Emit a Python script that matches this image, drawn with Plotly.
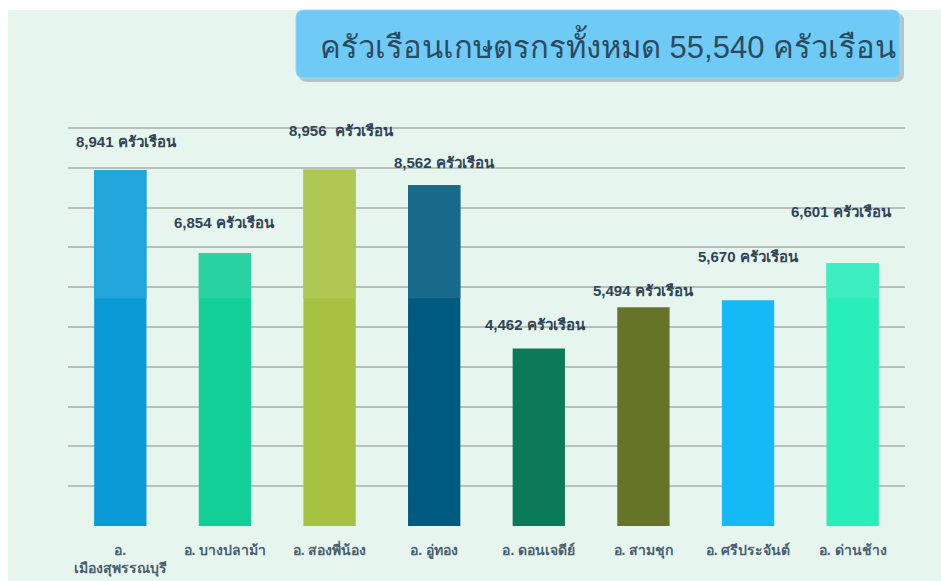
import plotly.graph_objects as go

districts = ["อ.<br>เมืองสุพรรณบุรี", "อ. บางปลาม้า", "อ. สองพี่น้อง", "อ. อู่ทอง",
             "อ. ดอนเจดีย์", "อ. สามชุก", "อ. ศรีประจันต์", "อ. ด่านช้าง"]
households = [8941, 6854, 8956, 8562, 4462, 5494, 5670, 6601]
value_labels = ["8,941 ครัวเรือน", "6,854 ครัวเรือน", "8,956  ครัวเรือน", "8,562 ครัวเรือน",
                "4,462 ครัวเรือน", "5,494 ครัวเรือน", "5,670 ครัวเรือน", "6,601 ครัวเรือน"]
title_text = "ครัวเรือนเกษตรกรทั้งหมด 55,540 ครัวเรือน"

bar_colors = ["#0a9bd7", "#12cf97", "#a6c240", "#005b80",
              "#0b7a57", "#667428", "#14b9f5", "#28eeb9"]
label_xshift = [6, 0, 12, 10, -3, 0, 0, -11]
label_yshift = [29, 31, 39, 23, 24, 17, 44, 52]
split_level = 5725  # lighter band above this level (background overlay effect)

def lighten(hexc, f=0.1):
    h = hexc.lstrip("#")
    r, g, b = (int(h[i:i+2], 16) for i in (0, 2, 4))
    r, g, b = (int(c + (255 - c) * f) for c in (r, g, b))
    return f"#{r:02x}{g:02x}{b:02x}"

FONT = "Liberation Sans, Arial, Noto Sans, DejaVu Sans, sans-serif"

# pixel helpers for decorative shapes (plot area: x 68..905, y 126..526)
PW, PH = 837, 400
def px(x):
    return (x - 68) / PW
def py(y):
    return (526 - y) / PH

def rounded_rect(x0, y0, x1, y1, r):
    rx, ry = r / PW, r / PH
    X0, X1, Y0, Y1 = px(x0), px(x1), py(y1), py(y0)
    return (f"M {X0+rx},{Y1} L {X1-rx},{Y1} Q {X1},{Y1} {X1},{Y1-ry} "
            f"L {X1},{Y0+ry} Q {X1},{Y0} {X1-rx},{Y0} L {X0+rx},{Y0} "
            f"Q {X0},{Y0} {X0},{Y0+ry} L {X0},{Y1-ry} Q {X0},{Y1} {X0+rx},{Y1} Z")

fig = go.Figure()
fig.add_trace(go.Bar(x=districts, y=households, marker=dict(color=bar_colors, line=dict(width=0)),
                     width=0.5, hoverinfo="skip"))
tops = [max(0, v - split_level) for v in households]
fig.add_trace(go.Bar(x=districts, y=tops, base=[split_level] * len(households),
                     marker=dict(color=[lighten(c, 0.1) for c in bar_colors], line=dict(width=0)),
                     width=0.5, hoverinfo="skip"))

for x, v, t, dx, dy in zip(districts, households, value_labels, label_xshift, label_yshift):
    fig.add_annotation(x=x, y=v, text=f"<b>{t}</b>", showarrow=False, xshift=dx, yshift=dy,
                       font=dict(family=FONT, size=15, color="#2f4457"), xanchor="center",
                       yanchor="middle")

# page background
fig.add_shape(type="rect", xref="paper", yref="paper", x0=px(8), x1=px(941),
              y0=py(600), y1=py(10), fillcolor="#e6f5ee", line=dict(width=0), layer="below")

# title box shadow + box
fig.add_shape(type="path", xref="paper", yref="paper", path=rounded_rect(299, 13, 904, 82, 8),
              fillcolor="rgba(90,110,120,0.35)", line=dict(width=0), layer="above")
fig.add_shape(type="path", xref="paper", yref="paper", path=rounded_rect(296, 10, 900, 78, 8),
              fillcolor="#6fcbf5", line=dict(color="#8fd8f8", width=1), layer="above")
fig.add_annotation(xref="paper", yref="paper", x=px(608), y=py(45),
                   text=title_text, showarrow=False, xanchor="center", yanchor="middle",
                   font=dict(family=FONT, size=31, color="#2c4a5e"))

fig.update_layout(
    width=941, height=581, barmode="overlay", showlegend=False,
    margin=dict(l=68, r=36, t=126, b=55, autoexpand=False),
    paper_bgcolor="#ffffff", plot_bgcolor="rgba(0,0,0,0)",
    xaxis=dict(showgrid=False, showline=False, ticks="", ticklabelstandoff=14, automargin=False,
               tickfont=dict(family=FONT, size=14, color="#4a6070"), fixedrange=True),
    yaxis=dict(range=[0, 10050], dtick=1000, showticklabels=False, showgrid=True, automargin=False,
               gridcolor="#b7c0bb", gridwidth=2, zeroline=False, showline=False, fixedrange=True),
)
fig.update_xaxes(tickvals=districts, ticktext=[f"<b>{d}</b>" for d in districts])

fig.write_html("out.html", config={"displayModeBar": False})
